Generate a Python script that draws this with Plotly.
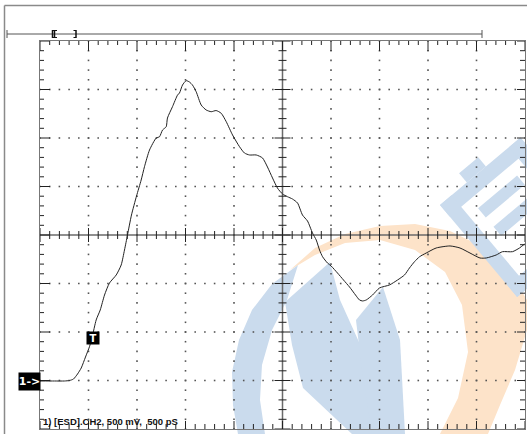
import math
import plotly.graph_objects as go

# ---- waveform data (time in ps, voltage in mV; 500 ps/div, 500 mV/div) ----
TIME_PS = [0, 150, 253, 304, 345, 387, 425, 469, 510, 538, 579, 621, 665, 716, 786, 837, 871, 902,
           943, 995, 1043, 1077, 1129, 1198, 1232, 1263, 1301, 1314, 1366, 1418, 1438, 1469, 1507,
           1541, 1572, 1610, 1662, 1713, 1765, 1816, 1868, 1920, 1985, 2057, 2108, 2160, 2229, 2294,
           2345, 2397, 2448, 2500, 2551, 2603, 2655, 2706, 2758, 2809, 2848, 2882, 2913, 2964, 3002,
           3067, 3129, 3191, 3253, 3294, 3325, 3363, 3428, 3500, 3603, 3686, 3758, 3809, 3861, 3913,
           3981, 4084, 4227, 4330, 4433, 4536, 4600, 4703, 4768, 4871, 4943, 4995]
VOLT_MV = [-5, -5, -5, 0, 15, 67, 129, 242, 348, 448, 624, 727, 881, 1005, 1088, 1191, 1345, 1500,
           1706, 1902, 2067, 2204, 2376, 2500, 2513, 2582, 2616, 2706, 2823, 2943, 2964, 3046, 3091,
           3077, 3046, 2977, 2840, 2789, 2771, 2783, 2755, 2668, 2531, 2410, 2345, 2325, 2325, 2294,
           2201, 2088, 1984, 1923, 1895, 1871, 1830, 1706, 1644, 1521, 1448, 1345, 1276, 1211, 1180,
           1108, 1036, 964, 881, 830, 820, 830, 881, 954, 985, 1036, 1088, 1160, 1225, 1276,
           1314, 1366, 1387, 1366, 1314, 1263, 1263, 1294, 1328, 1328, 1366, 1407]

X_RANGE = [0, 5000]      # 10 divisions x 500 ps
Y_RANGE = [-500, 3500]   # 8 divisions x 500 mV
X_DIV, Y_DIV = 500, 500
X_MINOR, Y_MINOR = 100, 100
X_CENTER, Y_CENTER = 2500, 1500
LABEL = "1) [ESD].CH2, 500 mV,  500 pS"

W, H = 527, 434
ML, MR, MT, MB = 40, 2, 41, 5
PW, PH = W - ML - MR, H - MT - MB
UX = (X_RANGE[1] - X_RANGE[0]) / PW   # data units per pixel
UY = (Y_RANGE[1] - Y_RANGE[0]) / PH


def P(px, py):
    return (px - ML) / PW, (H - MB - py) / PH


fig = go.Figure()

# ---- ticks built from the axis settings ----
tx, ty = [], []
def seg(x0, y0, x1, y1):
    tx.extend([x0, x1, None]); ty.extend([y0, y1, None])

nx = int((X_RANGE[1] - X_RANGE[0]) / X_MINOR)
for i in range(nx + 1):
    x = X_RANGE[0] + i * X_MINOR
    major = (i * X_MINOR) % X_DIV == 0
    seg(x, Y_RANGE[1], x, Y_RANGE[1] - (10 if major else 4) * UY)
    seg(x, Y_RANGE[0], x, Y_RANGE[0] + (8 if major else 5) * UY)
    c = (7 if major else 4) * UY
    seg(x, Y_CENTER - c, x, Y_CENTER + c)
ny = int((Y_RANGE[1] - Y_RANGE[0]) / Y_MINOR)
for j in range(ny + 1):
    y = Y_RANGE[0] + j * Y_MINOR
    major = (j * Y_MINOR) % Y_DIV == 0
    seg(X_RANGE[0], y, X_RANGE[0] + (10 if major else 4) * UX, y)
    seg(X_RANGE[1], y, X_RANGE[1] - (8 if major else 5) * UX, y)
    c = (8 if major else 4) * UX
    seg(X_CENTER - c, y, X_CENTER + c, y)

# ---- dotted graticule ----
dx, dy = [], []
for k in range(1, int((X_RANGE[1] - X_RANGE[0]) / X_DIV)):
    x = X_RANGE[0] + k * X_DIV
    if x == X_CENTER:
        continue
    for j in range(ny + 1):
        dx.append(x); dy.append(Y_RANGE[0] + j * Y_MINOR)
for k in range(1, int((Y_RANGE[1] - Y_RANGE[0]) / Y_DIV)):
    y = Y_RANGE[0] + k * Y_DIV
    if y == Y_CENTER:
        continue
    for i in range(nx + 1):
        dx.append(X_RANGE[0] + i * X_MINOR); dy.append(y)

fig.add_trace(go.Scatter(x=dx, y=dy, mode="markers", hoverinfo="skip",
                         marker=dict(size=1.6, color="#555", symbol="square", line=dict(width=0))))
fig.add_trace(go.Scatter(x=[X_CENTER, X_CENTER, None, X_RANGE[0], X_RANGE[1]],
                         y=[Y_RANGE[0], Y_RANGE[1], None, Y_CENTER, Y_CENTER],
                         mode="lines", hoverinfo="skip", line=dict(color="#6a6a6a", width=1.5)))
fig.add_trace(go.Scatter(x=tx, y=ty, mode="lines", hoverinfo="skip",
                         line=dict(color="#222", width=1)))
fig.add_trace(go.Scatter(x=TIME_PS, y=VOLT_MV, mode="lines", hoverinfo="skip",
                         line=dict(color="#222", width=1, shape="spline", smoothing=0.6)))

shapes = []

def poly(pts, color):
    s = ""
    for n, (px, py) in enumerate(pts):
        x, y = P(px, py)
        s += ("M" if n == 0 else "L") + f"{x:.4f},{y:.4f} "
    shapes.append(dict(type="path", path=s + "Z", xref="paper", yref="paper",
                       fillcolor=color, line=dict(width=0), layer="below"))

ORANGE = "#fde3c9"
BLUE = "#cadbed"
# ---- watermark (approximate logo) ----
poly([(290, 270), (315, 248), (345, 234), (380, 226), (415, 224), (450, 231), (485, 248),
      (512, 275), (527, 300), (527, 330), (515, 370), (500, 405), (488, 434),
      (440, 434), (458, 398), (468, 352), (462, 305), (445, 272), (415, 250), (380, 240),
      (345, 243), (315, 255)], ORANGE)
poly([(298, 265), (272, 284), (252, 310), (239, 340), (232, 372), (233, 405), (238, 434),
      (265, 434), (260, 400), (262, 365), (272, 330), (287, 300)], BLUE)
poly([(285, 302), (330, 262), (340, 300), (368, 362), (405, 434), (352, 434), (303, 388),
      (292, 345)], BLUE)
poly([(356, 320), (383, 287), (400, 340), (405, 434), (372, 434), (362, 370)], BLUE)

# chip icon: rotated frame
ang = math.radians(40)
u = (math.cos(ang), -math.sin(ang))
v = (math.sin(ang), math.cos(ang))
o = (440, 205)
def L(a, b):
    return (o[0] + a * u[0] + b * v[0], o[1] + a * u[1] + b * v[1])
A, B, T = 105, 120, 15
poly([L(0, 0), L(A, 0), L(A, T), L(0, T)], BLUE)
poly([L(0, 0), L(T, 0), L(T, B), L(0, B)], BLUE)
poly([L(0, B - T), L(A, B - T), L(A, B), L(0, B)], BLUE)
poly([L(A - T, 0), L(A, 0), L(A, B), L(A - T, B)], BLUE)
poly([L(T + 12, T + 12), L(A - T - 12, T + 12), L(A - T - 12, T + 24), L(T + 12, T + 24)], BLUE)
poly([L(T + 12, T + 36), L(A - T - 12, T + 36), L(A - T - 12, T + 48), L(T + 12, T + 48)], BLUE)
poly([L(35, -12), L(60, -12), L(60, 0), L(35, 0)], BLUE)

# ---- outer frame and top record bar ----
def line(p0, p1, color="#666", width=1):
    x0, y0 = P(*p0); x1, y1 = P(*p1)
    shapes.append(dict(type="line", x0=x0, y0=y0, x1=x1, y1=y1, xref="paper", yref="paper",
                       line=dict(color=color, width=width)))

line((4.5, 5.5), (530, 5.5), "#8a8a8a", 1.5)
line((4.5, 5.5), (4.5, 440), "#8a8a8a", 1.5)
line((7, 34), (482, 34), "#555", 1)
line((7, 30), (7, 38), "#555", 1)
line((482, 30), (482, 38), "#555", 1)
line((52.5, 30), (52.5, 38), "#111", 1.5)
line((54.5, 30), (54.5, 38), "#111", 1.5)
line((52.5, 30.5), (57, 30.5), "#111", 1)
line((52.5, 37.5), (57, 37.5), "#111", 1)
line((76, 30), (76, 38), "#111", 1.5)
line((73.5, 30.5), (76, 30.5), "#111", 1)
line((73.5, 37.5), (76, 37.5), "#111", 1)

ann = []
bx, by = P(29, 381.8)
ann.append(dict(text="<b>1-&gt;</b>", x=bx, y=by, xref="paper", yref="paper", showarrow=False,
                xanchor="center", yanchor="middle",
                bgcolor="black", width=21, height=17, borderpad=0,
                font=dict(family="DejaVu Sans", size=11, color="white")))
tx_, ty_ = P(92.8, 337.8)
ann.append(dict(text="<b>T</b>", x=tx_, y=ty_, xref="paper", yref="paper", showarrow=False,
                xanchor="center", yanchor="middle",
                bgcolor="black", width=12, height=12, borderpad=0,
                font=dict(family="DejaVu Sans", size=10, color="white")))
lx, ly = P(41, 429)
ann.append(dict(text="<b>" + LABEL + "</b>", x=lx, y=ly, xref="paper", yref="paper",
                showarrow=False, xanchor="left", yanchor="bottom",
                font=dict(family="Liberation Sans", size=9.5, color="#111")))

axis_common = dict(showgrid=False, zeroline=False, showticklabels=False, ticks="",
                   showline=True, mirror=True, linecolor="#777", linewidth=1, fixedrange=True)
fig.update_layout(
    width=W, height=H, margin=dict(l=ML, r=MR, t=MT, b=MB),
    paper_bgcolor="white", plot_bgcolor="rgba(0,0,0,0)", showlegend=False,
    xaxis=dict(range=X_RANGE, **axis_common),
    yaxis=dict(range=Y_RANGE, **axis_common),
    shapes=shapes, annotations=ann,
)
fig.write_html("out.html", config={"displayModeBar": False},
               post_script="document.body.style.margin='0';")
